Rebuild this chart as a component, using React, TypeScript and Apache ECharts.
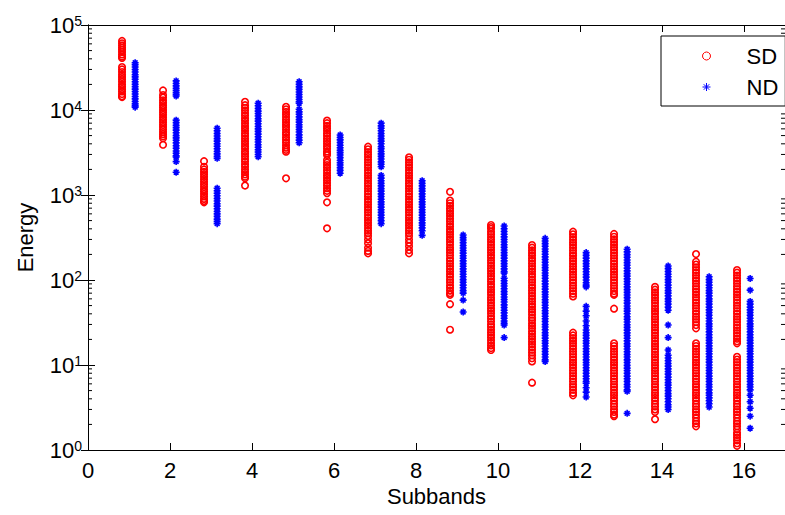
import React, { useEffect, useRef } from "react";
import * as echarts from "echarts";

// Subband indices
const subbands = [1, 2, 3, 4, 5, 6, 7, 8, 9, 10, 11, 12, 13, 14, 15, 16];
const xTickLabels = ["0", "2", "4", "6", "8", "10", "12", "14", "16"];
const yTickExponents = [0, 1, 2, 3, 4, 5];

// SD energies per subband
const sd1 = [65000, 61000, 57500, 54000, 51000, 48000, 45000, 42500, 41000, 32000, 30000, 28000, 26000, 24500, 23000, 21500, 20000, 18800, 17600, 16500, 15400, 14500, 14200];
const sd2 = [17000, 15000, 14000, 13000, 12200, 11400, 10700, 10000, 9400, 8800, 8200, 7700, 7200, 6700, 6300, 5900, 5500, 5200, 4900, 4650, 3900];
const sd3 = [2500, 2150, 2000, 1870, 1750, 1640, 1530, 1430, 1340, 1250, 1170, 1100, 1030, 960, 900, 850, 820];
const sd4 = [12500, 11400, 10600, 9900, 9200, 8600, 8000, 7500, 7000, 6500, 6100, 5700, 5300, 4950, 4600, 4300, 4000, 3750, 3500, 3250, 3050, 2850, 2650, 2480, 2300, 2150, 2000, 1870, 1750, 1640, 1570, 1290];
const sd5 = [10900, 10200, 9500, 8900, 8300, 7700, 7200, 6700, 6300, 5850, 5450, 5100, 4750, 4450, 4150, 3850, 3600, 3400, 3230, 1570];
const sd6 = [7500, 7000, 6500, 6100, 5700, 5300, 4950, 4600, 4300, 4000, 3750, 3500, 3250, 3100, 2950, 2580, 2400, 2250, 2100, 1950, 1820, 1700, 1590, 1480, 1380, 1290, 1200, 1120, 1050, 820, 405];
const sd7 = [3700, 3450, 3200, 3000, 2800, 2600, 2420, 2250, 2100, 1950, 1820, 1700, 1580, 1470, 1370, 1280, 1190, 1110, 1030, 960, 890, 830, 775, 720, 670, 625, 580, 540, 505, 470, 440, 410, 380, 355, 330, 300, 270, 240, 220, 206];
const sd8 = [2780, 2600, 2420, 2250, 2100, 1950, 1820, 1700, 1580, 1470, 1370, 1280, 1190, 1110, 1030, 960, 890, 830, 775, 720, 670, 625, 580, 540, 505, 470, 440, 410, 380, 355, 330, 300, 275, 250, 225, 206];
const sd9 = [1090, 860, 800, 745, 695, 650, 605, 565, 525, 490, 455, 425, 395, 370, 345, 320, 300, 280, 260, 240, 225, 210, 195, 180, 168, 156, 145, 135, 126, 117, 109, 101, 94, 87, 81, 75, 70, 67, 52, 26];
const sd10 = [444, 420, 400, 370, 345, 320, 300, 280, 260, 242, 225, 210, 196, 183, 170, 158, 147, 137, 128, 119, 111, 103, 96, 89, 83, 77, 72, 67, 62, 58, 54, 50, 46.5, 43.5, 40.5, 37.5, 35, 32.5, 30, 28, 26, 24.2, 22.5, 21, 19.5, 18.2, 17, 15.8, 15];
const sd11 = [258, 240, 223, 208, 194, 180, 168, 156, 145, 135, 126, 117, 109, 101, 94, 87, 81, 75, 70, 65, 60, 56, 52, 48.5, 45, 42, 39, 36, 33.5, 31, 29, 27, 25, 23.3, 21.7, 20.2, 18.8, 17.5, 16.3, 15.1, 14, 13, 12, 11, 6.2];
const sd12 = [370, 345, 320, 298, 277, 258, 240, 223, 207, 193, 179, 167, 155, 144, 134, 125, 116, 108, 100, 93, 86, 80, 74, 69, 64, 24, 22.3, 20.7, 19.3, 18, 16.7, 15.5, 14.4, 13.4, 12.4, 11.5, 10.7, 10, 9.3, 8.6, 8, 7.4, 6.9, 6.4, 5.9, 5.5, 5.1, 4.7, 4.4];
const sd13 = [348, 323, 300, 279, 260, 242, 225, 209, 194, 180, 167, 155, 144, 134, 125, 116, 108, 100, 93, 86, 80, 74, 69, 67, 46, 18, 16.7, 15.5, 14.4, 13.4, 12.4, 11.5, 10.7, 10, 9.3, 8.6, 8, 7.4, 6.9, 6.4, 5.9, 5.5, 5.1, 4.7, 4.4, 4.1, 3.8, 3.5, 3.25, 3, 2.8, 2.6, 2.5];
const sd14 = [83, 77, 71.5, 66.5, 62, 57.5, 53.5, 49.5, 46, 43, 40, 37, 34.5, 32, 29.8, 27.7, 25.7, 23.9, 22.2, 20.6, 19.2, 17.8, 16.6, 15.4, 14.3, 13.3, 12.4, 11.5, 10.7, 9.9, 9.2, 8.6, 8, 7.4, 6.9, 6.4, 5.9, 5.5, 5.1, 4.7, 4.4, 4.1, 3.8, 3.5, 3.25, 3, 2.8, 2.3];
const sd15 = [202, 164, 152, 141, 131, 122, 113, 105, 98, 91, 84, 78, 72.5, 67.5, 62.5, 58, 54, 50, 46.5, 43, 40, 37, 34.5, 32, 29.5, 27, 18, 16.7, 15.5, 14.4, 13.4, 12.4, 11.5, 10.7, 10, 9.3, 8.6, 8, 7.4, 6.9, 6.4, 5.9, 5.5, 5.1, 4.7, 4.4, 4.1, 3.8, 3.5, 3.25, 3, 2.8, 2.6, 2.4, 2.2, 2.05, 1.9];
const sd16 = [131, 122, 113, 105, 98, 91, 84, 78, 72.5, 67.5, 62.5, 58, 54, 50, 46.5, 43, 40, 37, 34.5, 32, 29.5, 27.5, 25.5, 23.7, 22, 20.4, 19, 18, 12.5, 11.6, 10.8, 10, 9.3, 8.6, 8, 7.4, 6.9, 6.4, 5.9, 5.5, 5.1, 4.7, 4.4, 4.1, 3.8, 3.5, 3.25, 3, 2.8, 2.6, 2.4, 2.2, 2.05, 1.9, 1.75, 1.6, 1.5, 1.4, 1.3, 1.2, 1.12];

// ND energies per subband
const nd1 = [36000, 34000, 32000, 30000, 28000, 26000, 24500, 23000, 21500, 20000, 18800, 17600, 16500, 15400, 14400, 13500, 12600, 11800, 11200, 10800];
const nd2 = [22000, 20500, 19200, 18000, 17000, 16000, 15200, 14600, 7600, 7100, 6600, 6200, 5800, 5400, 5000, 4700, 4400, 4100, 3800, 3550, 3300, 3100, 2900, 2800, 2470, 1850];
const nd3 = [6100, 5700, 5300, 4950, 4600, 4300, 4000, 3750, 3500, 3250, 3050, 2850, 2700, 1200, 1120, 1050, 980, 910, 850, 790, 740, 690, 640, 600, 560, 520, 490, 460];
const nd4 = [12000, 11200, 10400, 9700, 9100, 8500, 7900, 7400, 6900, 6400, 6000, 5600, 5200, 4850, 4500, 4200, 3900, 3650, 3400, 3200, 3000, 2820];
const nd5 = [21500, 20000, 18700, 17500, 16300, 15200, 14200, 13300, 12500, 12000, 10200, 9500, 8900, 8300, 7700, 7200, 6700, 6300, 5900, 5500, 5100, 4750, 4420, 4120];
const nd6 = [5080, 4750, 4450, 4150, 3850, 3600, 3350, 3150, 2950, 2750, 2550, 2400, 2250, 2100, 1950, 1800];
const nd7 = [7000, 6500, 6100, 5700, 5300, 4950, 4600, 4300, 4000, 3700, 3500, 3250, 3050, 2850, 2650, 2450, 2300, 2150, 1700, 1580, 1470, 1370, 1280, 1190, 1110, 1030, 960, 890, 830, 775, 720, 670, 625, 580, 540, 500, 460];
const nd8 = [1470, 1370, 1280, 1190, 1110, 1030, 960, 890, 830, 775, 720, 670, 625, 580, 540, 505, 470, 440, 410, 380, 335];
const nd9 = [338, 315, 295, 275, 255, 238, 222, 207, 193, 180, 168, 156, 145, 135, 126, 117, 109, 101, 94, 87, 81, 75, 70, 58, 42];
const nd10 = [431, 400, 372, 346, 322, 300, 280, 260, 242, 225, 210, 195, 181, 168, 156, 145, 135, 126, 121, 105, 98, 91, 85, 79, 73, 68, 63, 59, 55, 51, 47.5, 44, 41, 38, 35.5, 33, 31, 29.5, 21];
const nd11 = [309, 288, 268, 250, 232, 216, 201, 187, 174, 162, 150, 140, 130, 121, 113, 105, 97, 90, 84, 78, 72.5, 67.5, 63, 58.5, 54.5, 50.5, 47, 43.5, 40.5, 37.5, 35, 32.5, 30, 28, 26, 24, 22.3, 20.7, 19.3, 18, 16.7, 15.5, 14.4, 13.4, 12.4, 11.5, 11];
const nd12 = [210, 195, 181, 168, 156, 145, 135, 125, 116, 108, 100, 93, 87, 83, 49, 43, 38, 33, 29, 25.8, 24, 22.3, 20.7, 19.3, 18, 16.7, 15.5, 14.4, 13.4, 12.4, 11.5, 10.7, 10, 9.3, 8.6, 8, 7.4, 6.9, 6.4, 6.1, 5.4, 4.8, 4.2];
const nd13 = [230, 214, 199, 185, 172, 160, 149, 138, 128, 119, 111, 103, 96, 89, 83, 77, 71.5, 66.5, 62, 57.5, 53.5, 49.5, 46, 43, 40, 37, 34.5, 32, 29.8, 27.7, 25.7, 23.9, 22.2, 20.6, 19.2, 17.8, 16.6, 15.4, 14.3, 13.3, 12.4, 11.5, 10.7, 9.9, 9.2, 8.6, 8, 7.4, 6.9, 6.4, 5.9, 5.5, 5.1, 4.9, 2.7];
const nd14 = [146, 136, 126, 117, 109, 101, 94, 87, 81, 75, 70, 65, 60, 56, 52, 48, 44, 29.5, 21, 15, 13, 12.1, 11.2, 10.4, 9.7, 9, 8.4, 7.8, 7.2, 6.7, 6.2, 5.8, 5.4, 5, 4.6, 4.3, 4, 3.7, 3.4, 3.2, 3.0];
const nd15 = [109, 101, 94, 87, 81, 75, 70, 65, 60, 56, 52, 48, 44.5, 41.5, 38.5, 35.5, 33, 30.5, 28.5, 26.5, 24.5, 22.7, 21, 19.5, 18.1, 16.8, 15.6, 14.5, 13.5, 12.5, 11.6, 10.8, 10, 9.3, 8.6, 8, 7.4, 6.9, 6.4, 5.9, 5.5, 5.1, 4.7, 4.4, 4.1, 3.8, 3.5, 3.2];
const nd16 = [104, 76, 56, 52, 48, 44.5, 41.5, 38.5, 35.5, 33, 30.5, 28.5, 26.5, 24.5, 22.7, 21, 19.5, 18.1, 16.8, 15.6, 14.5, 13.5, 12.5, 11.6, 10.8, 10, 9.3, 8.6, 8, 7.4, 6.9, 6.4, 5.9, 5.5, 5.1, 4.4, 3.7, 3.1, 2.5, 1.8];

const sdColumns = [sd1, sd2, sd3, sd4, sd5, sd6, sd7, sd8, sd9, sd10, sd11, sd12, sd13, sd14, sd15, sd16];
const ndColumns = [nd1, nd2, nd3, nd4, nd5, nd6, nd7, nd8, nd9, nd10, nd11, nd12, nd13, nd14, nd15, nd16];

// Minor tick values for the log axis (2..9 in each decade)
const minorTickValues = [
  2, 3, 4, 5, 6, 7, 8, 9,
  20, 30, 40, 50, 60, 70, 80, 90,
  200, 300, 400, 500, 600, 700, 800, 900,
  2000, 3000, 4000, 5000, 6000, 7000, 8000, 9000,
  20000, 30000, 40000, 50000, 60000, 70000, 80000, 90000,
];

const SD_SHIFT = -0.17;
const ND_SHIFT = 0.15;
const FONT = "'Liberation Sans', Arial, Helvetica, sans-serif";
const STAR = "path://M5 0 L5 10 M0 5 L10 5 M1.6 1.6 L8.4 8.4 M8.4 1.6 L1.6 8.4";

export default function App() {
  const ref = useRef<HTMLDivElement>(null);
  useEffect(() => {
    if (!ref.current) return;
    const chart = echarts.init(ref.current, null, { renderer: "svg" });
    const sdData: number[][] = [];
    sdColumns.forEach((vals, i) => vals.forEach((v) => sdData.push([subbands[i] + SD_SHIFT, v])));
    const ndData: number[][] = [];
    ndColumns.forEach((vals, i) => vals.forEach((v) => ndData.push([subbands[i] + ND_SHIFT, v])));

    const xCommon = {
      type: "value" as const,
      min: 0,
      max: 17,
      interval: 2,
      splitLine: { show: false },
      axisLine: { show: true, lineStyle: { color: "#000", width: 1 } },
      axisTick: { show: true, inside: true, length: 7, lineStyle: { color: "#000" } },
    };
    const yCommon = {
      type: "log" as const,
      logBase: 10,
      min: 1,
      max: 100000,
      splitLine: { show: false },
      axisLine: { show: true, lineStyle: { color: "#000", width: 1 } },
      axisTick: { show: true, inside: true, length: 7, lineStyle: { color: "#000" } },
    };

    chart.setOption({
      animation: false,
      backgroundColor: "#fff",
      grid: { left: 88, top: 25, width: 702, height: 425, containLabel: false },
      xAxis: [
        {
          ...xCommon,
          position: "bottom",
          name: "Subbands",
          nameLocation: "middle",
          nameGap: 34,
          nameTextStyle: { color: "#000", fontSize: 22, fontFamily: FONT },
          axisLabel: {
            color: "#000",
            fontSize: 22,
            fontFamily: FONT,
            margin: 9,
            showMaxLabel: false,
            formatter: (v: number) => {
              const idx = xTickLabels.indexOf(String(v));
              return idx >= 0 ? xTickLabels[idx] : "";
            },
          },
        },
        { ...xCommon, position: "top", axisLabel: { show: false } },
      ],
      yAxis: [
        {
          ...yCommon,
          position: "left",
          name: "Energy",
          nameLocation: "middle",
          nameGap: 52,
          nameRotate: 90,
          nameTextStyle: { color: "#000", fontSize: 22, fontFamily: FONT },
          axisLabel: {
            color: "#000",
            margin: 6,
            formatter: (v: number) => {
              const e = Math.round(Math.log10(v));
              return yTickExponents.includes(e) ? `{a|10}{b|${e}}` : "";
            },
            rich: {
              a: { fontSize: 22, fontFamily: FONT, color: "#000", lineHeight: 22, verticalAlign: "bottom", padding: [8, 0, 0, 0] },
              b: { fontSize: 14, fontFamily: FONT, color: "#000", lineHeight: 14, verticalAlign: "top" },
            },
          },
        },
        { ...yCommon, position: "right", axisLabel: { show: false } },
      ],
      legend: {
        orient: "vertical",
        left: 661,
        top: 36,
        data: ["SD", "ND"],
        itemWidth: 8,
        itemHeight: 8,
        itemGap: 7,
        padding: [8, 7, 7, 41],
        borderColor: "#000",
        borderWidth: 1,
        backgroundColor: "#fff",
        selectedMode: false,
        formatter: (name: string) => `{g|}${name}`,
        itemStyle: { borderWidth: 1 },
        textStyle: {
          color: "#000",
          fontSize: 22,
          fontFamily: FONT,
          lineHeight: 24,
          rich: { g: { width: 31 } },
        },
      },
      series: [
        {
          name: "SD",
          type: "scatter",
          data: sdData,
          symbol: "circle",
          symbolSize: 6.5,
          itemStyle: { color: "rgba(0,0,0,0)", borderColor: "#ff0000", borderWidth: 1.6, opacity: 1 },
          emphasis: { disabled: true },
        },
        {
          name: "ND",
          type: "scatter",
          data: ndData,
          symbol: STAR,
          symbolSize: 7,
          itemStyle: { color: "rgba(0,0,0,0)", borderColor: "#0000ff", borderWidth: 1.6, opacity: 1 },
          emphasis: { disabled: true },
        },
        {
          name: "minorTicks",
          type: "custom",
          silent: true,
          clip: false,
          data: minorTickValues.map((v) => [0, v]),
          renderItem: (params: any, api: any) => {
            const y = api.coord([0, api.value(1)])[1];
            const cs = params.coordSys;
            return {
              type: "group",
              children: [
                { type: "line", shape: { x1: cs.x, y1: y, x2: cs.x + 4, y2: y }, style: { stroke: "#000", lineWidth: 1 } },
                { type: "line", shape: { x1: cs.x + cs.width - 4, y1: y, x2: cs.x + cs.width, y2: y }, style: { stroke: "#000", lineWidth: 1 } },
              ],
            };
          },
        },
      ],
    });
    return () => chart.dispose();
  }, []);
  return <div ref={ref} style={{ position: "absolute", left: 0, top: 0, width: 785, height: 515, background: "#fff" }} />;
}
